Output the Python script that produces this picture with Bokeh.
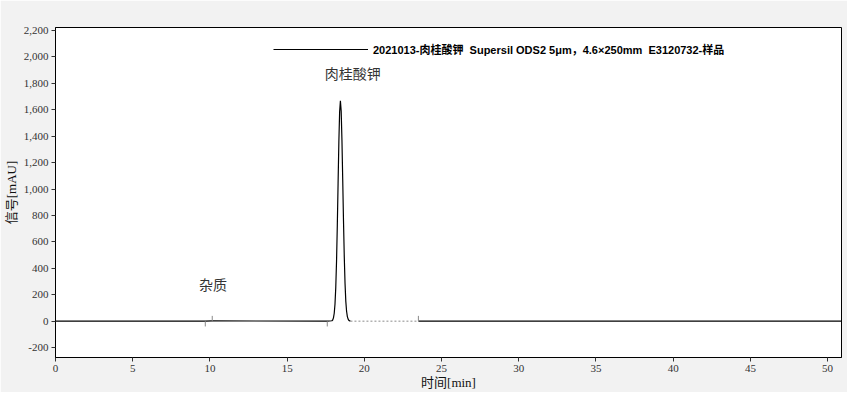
from bokeh.plotting import figure
from bokeh.models import (Range1d, FixedTicker, NumeralTickFormatter, Legend, LegendItem)
from bokeh.core.properties import value
from bokeh.embed import file_html
from bokeh.resources import INLINE

# ---- data ----
times = [0.0, 9.7, 10.15, 17.6, 17.9, 17.95, 18.0, 18.05, 18.1, 18.15, 18.2, 18.25, 18.3,
         18.35, 18.4, 18.45, 18.5, 18.55, 18.6, 18.65, 18.7, 18.75, 18.8, 18.85, 18.9,
         18.95, 19.0, 19.1, 23.5, 50.9]
signal = [0, 0, 2, 0, 3, 9, 25, 60, 130, 256, 455, 726, 1045,
          1356, 1585, 1668, 1590, 1370, 1070, 760, 490, 285, 150, 75, 35,
          15, 6, 0, 0, 0]
baseline_x = [19.1, 23.5]
baseline_y = [0, 0]
marker_t = [9.7, 10.15, 17.6, 23.5]
marker_dir = [-1, 1, -1, 1]
peak_names = ["杂质", "肉桂酸钾"]
peak_label_x = [10.2, 19.25]
peak_label_y = [285, 1875]
legend_label = "2021013-肉桂酸钾  Supersil ODS2 5μm，4.6×250mm  E3120732-样品"
x_ticks = [0, 5, 10, 15, 20, 25, 30, 35, 40, 45, 50]
y_ticks = [-200, 0, 200, 400, 600, 800, 1000, 1200, 1400, 1600, 1800, 2000, 2200]

serif = "'Liberation Serif', 'Noto Sans CJK SC', serif"
cjk = "'Noto Sans CJK SC', sans-serif"

p = figure(width=847, height=392, output_backend="svg", toolbar_location=None,
           x_range=Range1d(0, 50.9), y_range=Range1d(-275, 2223),
           min_border_left=54, min_border_right=6, min_border_top=27, min_border_bottom=34,
           background_fill_color="white", border_fill_color="#f2f2f2")
p.outline_line_color = "black"
p.outline_line_width = 1
p.xgrid.visible = False
p.ygrid.visible = False

for ax in (p.xaxis[0], p.yaxis[0]):
    ax.axis_line_color = "black"
    ax.major_tick_line_color = "#333333"
    ax.major_tick_out = 4
    ax.major_tick_in = 0
    ax.minor_tick_line_color = None
    ax.major_label_text_font = serif
    ax.major_label_text_font_size = "11px"
    ax.major_label_text_color = "#333333"
    ax.axis_label_text_font = serif
    ax.axis_label_text_font_size = "13px"
    ax.axis_label_text_font_style = "normal"
    ax.axis_label_text_color = "#111111"

p.xaxis.ticker = FixedTicker(ticks=x_ticks)
p.yaxis.ticker = FixedTicker(ticks=y_ticks)
p.yaxis.formatter = NumeralTickFormatter(format="0,0")
p.xaxis.axis_label = "时间[min]"
p.yaxis.axis_label = "信号[mAU]"
p.xaxis.major_label_standoff = 3
p.yaxis.major_label_standoff = 3
p.xaxis.axis_label_standoff = 0
p.yaxis.axis_label_standoff = 2

# chromatogram: solid except where the integration baseline is drawn
seg1 = [(t, s) for t, s in zip(times, signal) if t <= baseline_x[0]]
seg2 = [(t, s) for t, s in zip(times, signal) if t >= baseline_x[1]]
r = p.multi_line(xs=[[a for a, _ in seg1], [a for a, _ in seg2]],
                 ys=[[b for _, b in seg1], [b for _, b in seg2]],
                 line_color="black", line_width=1.2)
p.line(baseline_x, baseline_y, line_color="#8a8a8a", line_width=1, line_dash="2 2")

# peak start/end markers
p.segment(x0=marker_t, y0=[0] * len(marker_t), x1=marker_t,
          y1=[d * 40 for d in marker_dir], line_color="#888888", line_width=1)

# peak names
p.text(x=peak_label_x, y=peak_label_y, text=peak_names, text_font=value(cjk),
       text_font_size="14px", text_color="#333333", text_align="center",
       text_baseline="middle")

legend = Legend(items=[LegendItem(label=legend_label, renderers=[r])],
                location=(218, 300), glyph_width=95, glyph_height=14, label_height=14,
                padding=0, margin=0, spacing=0, label_standoff=5,
                background_fill_alpha=0, border_line_color=None,
                label_text_font="'Liberation Sans', 'Noto Sans CJK SC', sans-serif",
                label_text_font_style="bold", label_text_font_size="11px",
                label_text_color="black")
p.add_layout(legend)

open("out.html", "w").write(file_html(p, INLINE))
